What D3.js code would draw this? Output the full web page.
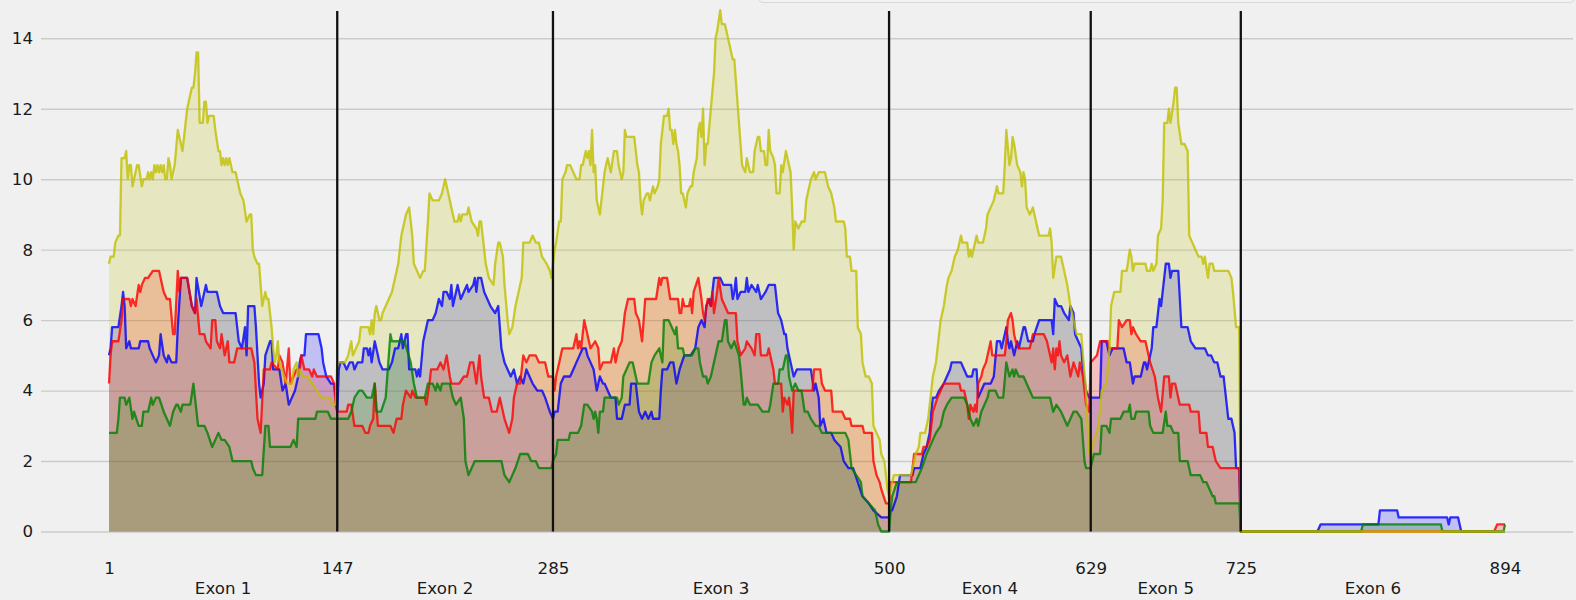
<!DOCTYPE html>
<html><head><meta charset="utf-8">
<script src="https://cdn.jsdelivr.net/npm/d3@7"></script>
<style>
html,body{margin:0;padding:0;background:#f0f0f0;}
svg{display:block;font-family:"DejaVu Sans",sans-serif;}
</style></head>
<body><svg id="chart" width="1576" height="600"></svg>
<script>
// ---- data ----
const exonBounds = [1, 147, 285, 500, 629, 725, 894];
const exonLabels = ["Exon 1", "Exon 2", "Exon 3", "Exon 4", "Exon 5", "Exon 6"];
const yTicks = [0, 2, 4, 6, 8, 10, 12, 14];

const blueSeries = [[1,5.0],[2,5.2],[3,5.8],[7,5.8],[9,6.4],[10,6.8],[11,6.4],[12,5.2],[14,5.4],[15,5.2],[20,5.2],[21,5.4],[26,5.4],[27,5.2],[29,5.0],[31,4.8],[33,5.0],[34,5.6],[36,5.0],[38,4.8],[39,5.0],[41,4.8],[44,4.8],[45,5.8],[47,7.2],[51,7.2],[54,6.4],[56,6.2],[57,7.2],[60,6.4],[63,7.0],[64,6.8],[70,6.8],[72,6.4],[74,6.2],[82,6.2],[84,5.4],[86,5.2],[88,5.8],[89,5.0],[90,6.4],[94,6.4],[95,5.8],[97,4.2],[98,3.8],[100,4.2],[101,5.0],[104,5.4],[105,5.4],[106,4.6],[110,4.6],[112,4.0],[114,4.2],[116,3.6],[118,3.8],[120,4.0],[122,4.4],[123,4.8],[124,5.0],[126,5.0],[127,5.6],[135,5.6],[137,5.2],[138,4.8],[140,4.4],[143,4.2],[145,4.2],
[147,3.4],[148,4.6],[149,4.8],[151,4.8],[153,4.6],[155,4.8],[157,4.8],[158,4.6],[160,4.8],[163,4.8],[164,5.2],[166,5.2],[167,5.0],[168,5.2],[169,4.8],[171,5.4],[173,5.0],[174,4.8],[176,4.6],[180,4.6],[182,4.8],[184,5.2],[186,5.2],[188,5.6],[189,5.2],[191,5.6],[192,5.6],[193,4.6],[197,4.6],[198,4.4],[199,4.6],[200,4.4],[202,5.4],[204,5.8],[205,6.0],[208,6.0],[210,6.2],[212,6.6],[214,6.4],[215,6.8],[217,6.8],[219,6.6],[220,7.0],[221,6.4],[223,6.8],[224,7.0],[226,6.6],[228,6.8],[230,7.0],[231,6.8],[234,7.0],[235,7.2],[236,6.8],[237,7.2],[239,7.2],[241,6.8],[243,6.6],[245,6.4],[248,6.2],[250,6.4],[252,5.2],[254,4.8],[256,4.6],[258,4.4],[260,4.6],[262,4.2],[264,4.4],[266,4.2],[268,4.6],[270,4.4],[272,4.2],[275,4.0],[278,4.0],[280,3.8],[283,3.4],
[285,3.2],[286,3.4],[288,3.4],[289,3.8],[290,4.2],[292,4.4],[296,4.4],[298,4.6],[300,4.8],[302,5.0],[304,5.2],[306,5.2],[307,5.0],[309,4.8],[311,4.6],[313,4.0],[315,4.4],[317,4.2],[318,4.2],[320,4.0],[322,3.8],[325,3.8],[326,3.2],[329,3.2],[331,3.6],[334,3.6],[335,4.2],[338,4.2],[340,3.4],[342,3.2],[344,3.4],[346,3.2],[348,3.4],[349,3.2],[353,3.2],[354,4.0],[355,4.6],[358,4.6],[360,4.8],[362,4.8],[364,4.2],[366,4.6],[369,5.0],[373,5.0],[376,5.2],[378,5.8],[380,6.0],[382,5.8],[383,6.4],[385,6.6],[386,6.4],[388,7.2],[392,7.2],[394,7.0],[399,7.0],[400,6.6],[401,6.8],[402,7.2],[403,6.6],[405,6.8],[408,6.8],[409,7.2],[410,6.8],[412,7.0],[415,6.8],[416,7.0],[418,6.6],[421,6.8],[423,7.0],[427,7.0],[429,6.2],[431,6.0],[433,5.6],[434,5.6],[435,5.2],[437,4.8],[439,4.4],[441,4.6],[450,4.6],[452,4.0],[453,4.2],[455,3.8],[456,3.0],[458,3.2],[460,2.8],[463,2.8],[465,2.6],[469,2.4],[471,2.0],[474,1.8],[477,1.8],[480,1.4],[483,1.0],[487,0.8],[490,0.6],[495,0.4],[500,0.4],
[501,0.6],[502,0.6],[505,1.0],[507,1.6],[515,1.6],[516,1.8],[520,1.8],[522,2.2],[524,2.4],[526,2.8],[527,3.4],[528,3.8],[530,3.8],[532,4.0],[535,4.2],[537,4.4],[539,4.6],[540,4.8],[546,4.8],[548,4.6],[550,4.4],[553,4.4],[554,4.6],[556,4.6],[557,3.8],[559,4.0],[561,4.2],[565,4.2],[567,4.4],[569,5.4],[571,5.4],[572,5.2],[574,5.6],[575,5.8],[576,5.4],[577,5.2],[578,5.4],[580,5.0],[582,5.4],[583,5.2],[584,5.4],[586,5.8],[587,5.8],[589,5.4],[592,5.4],[593,5.6],[596,6.0],[604,6.0],[605,5.6],[606,6.6],[608,6.4],[610,6.4],[612,6.2],[615,6.0],[616,6.4],[618,6.2],[619,5.6],[621,5.4],[623,5.2],[624,4.6],[626,4.0],[628,3.8],
[629,3.8],[635,3.8],[636,5.4],[639,5.4],[641,5.0],[643,5.2],[650,5.2],[652,4.8],[654,4.8],[656,4.2],[657,4.4],[661,4.4],[663,4.8],[664,4.8],[665,4.6],[666,4.8],[668,5.2],[669,5.8],[671,5.8],[673,6.6],[674,6.4],[675,6.8],[677,7.6],[679,7.6],[680,7.2],[681,7.4],[685,7.4],[687,5.8],[691,5.8],[693,5.4],[696,5.2],[702,5.2],[704,5.0],[706,5.0],[708,4.8],[710,4.8],[712,4.4],[714,4.4],[716,3.6],[717,3.2],[719,3.2],[721,2.8],[722,1.8],[724,1.8],
[725,0],[774,0],[776,0.2],[813,0.2],[814,0.6],[825,0.6],[826,0.4],[857,0.4],[858,0.2],[859,0.4],[864,0.4],[866,0],[894,0]];

const redSeries = [[1,4.2],[2,5.0],[3,5.4],[7,5.4],[9,6.0],[10,6.6],[14,6.6],[15,6.4],[16,6.6],[18,6.4],[20,7.0],[21,6.8],[22,7.0],[24,7.2],[26,7.2],[29,7.4],[33,7.4],[35,7.0],[36,6.8],[38,6.6],[40,6.6],[42,5.6],[43,5.6],[45,7.4],[46,6.8],[47,7.2],[51,7.2],[54,6.4],[56,6.2],[57,6.6],[59,5.6],[62,5.6],[63,5.4],[66,5.2],[67,6.0],[69,6.0],[70,5.4],[72,5.2],[73,5.6],[75,5.0],[77,5.4],[78,4.8],[81,4.8],[83,5.2],[92,5.2],[94,4.8],[96,3.2],[98,2.8],[100,4.6],[104,4.6],[105,4.8],[109,4.6],[110,5.0],[112,4.8],[114,4.2],[116,5.2],[117,4.2],[119,4.4],[121,4.6],[123,4.6],[124,5.0],[126,4.6],[129,4.6],[131,4.4],[132,4.6],[134,4.4],[143,4.4],[145,4.2],[146,3.6],
[147,3.4],[153,3.4],[154,3.6],[156,3.6],[158,3.0],[163,3.0],[165,2.8],[167,2.8],[168,3.0],[170,3.2],[171,4.2],[173,3.0],[181,3.0],[183,2.8],[185,3.2],[188,3.2],[189,3.6],[191,4.0],[194,3.8],[195,4.0],[197,3.8],[203,3.8],[204,3.6],[206,4.2],[207,4.6],[211,4.6],[213,4.8],[215,4.6],[217,5.0],[219,4.4],[220,4.2],[225,4.2],[228,4.4],[230,4.4],[232,4.8],[234,4.8],[236,4.2],[238,5.0],[239,4.4],[241,3.8],[244,3.8],[246,3.4],[249,3.4],[251,3.8],[254,3.2],[257,2.8],[259,3.2],[260,3.8],[262,4.2],[264,4.2],[266,5.0],[268,4.8],[270,5.0],[274,5.0],[276,4.8],[280,4.8],[282,4.4],[284,4.4],
[285,4.4],[286,4.0],[287,4.4],[289,4.8],[291,5.2],[298,5.2],[300,5.6],[301,5.2],[302,5.4],[303,5.2],[305,6.0],[307,5.6],[309,5.2],[312,5.4],[314,5.2],[315,4.6],[317,4.8],[322,4.8],[324,5.2],[325,4.8],[327,5.2],[329,5.4],[331,6.2],[333,6.6],[337,6.6],[338,6.2],[340,6.0],[342,5.4],[344,6.6],[351,6.6],[353,7.2],[354,7.0],[355,7.2],[358,7.2],[360,6.6],[365,6.6],[366,6.2],[367,6.2],[368,6.6],[369,6.4],[372,6.4],[373,6.6],[374,6.2],[375,6.8],[378,7.2],[380,6.6],[381,6.2],[382,6.0],[384,6.6],[386,6.4],[387,6.8],[388,6.2],[390,6.8],[391,7.2],[393,6.6],[395,6.4],[397,6.2],[402,6.2],[403,5.4],[405,5.0],[408,5.2],[409,5.4],[412,5.2],[414,5.0],[415,5.6],[417,5.6],[418,5.0],[422,5.0],[423,5.2],[424,5.0],[426,4.6],[427,4.2],[431,4.2],[432,3.4],[433,3.8],[435,3.6],[436,3.8],[437,3.4],[438,2.8],[439,4.0],[451,4.0],[452,4.6],[456,4.6],[457,4.2],[459,4.0],[463,4.0],[464,3.4],[470,3.4],[472,3.2],[475,3.2],[476,3.0],[483,3.0],[484,2.8],[489,2.8],[490,2.0],[492,1.6],[494,1.4],[495,1.2],[498,0.8],[500,0.8],
[501,1.4],[514,1.4],[516,2.2],[521,2.2],[522,2.4],[524,2.4],[526,2.6],[528,3.4],[531,3.8],[533,4.0],[535,4.2],[545,4.2],[546,4.0],[548,4.0],[550,3.6],[551,3.2],[552,3.6],[554,3.4],[555,3.6],[556,3.4],[557,4.2],[559,4.4],[560,4.6],[562,4.8],[563,5.0],[565,5.4],[566,5.0],[568,5.0],[574,5.0],[575,5.4],[576,6.0],[578,6.2],[579,6.0],[580,5.6],[581,5.4],[583,5.2],[590,5.2],[592,5.6],[599,5.6],[601,5.4],[603,5.0],[604,4.8],[605,5.2],[606,4.6],[607,5.2],[608,5.0],[609,5.4],[610,5.0],[612,4.8],[614,5.0],[616,4.4],[618,4.8],[621,4.4],[622,4.8],[624,4.4],[626,3.6],[628,3.4],
[629,4.8],[633,5.0],[635,5.4],[640,5.4],[641,5.2],[646,5.2],[647,6.0],[649,5.8],[652,6.0],[654,6.0],[655,5.6],[656,5.8],[658,5.6],[661,5.4],[664,5.4],[665,5.2],[666,5.0],[667,4.8],[670,4.4],[672,3.8],[674,3.4],[676,4.4],[679,4.4],[680,3.8],[681,4.2],[683,4.2],[685,3.8],[686,3.6],[692,3.6],[693,3.4],[698,3.4],[699,2.8],[703,2.8],[704,2.4],[707,2.4],[708,2.2],[709,2.0],[712,1.8],[724,1.8],
[725,0],[887,0],[889,0.2],[894,0.2]];

const greenSeries = [[1,2.8],[6,2.8],[7,3.2],[8,3.8],[11,3.8],[12,3.6],[14,3.8],[16,3.2],[17,3.4],[20,3.0],[22,3.0],[23,3.4],[26,3.4],[28,3.8],[29,3.6],[31,3.8],[33,3.8],[36,3.4],[38,3.2],[40,3.0],[42,3.4],[44,3.6],[45,3.6],[47,3.4],[48,3.6],[53,3.6],[55,4.2],[58,3.0],[62,3.0],[64,2.8],[67,2.4],[69,2.6],[71,2.8],[73,2.6],[75,2.6],[78,2.4],[80,2.0],[92,2.0],[93,1.8],[95,1.6],[99,1.6],[101,3.0],[103,3.0],[104,2.4],[117,2.4],[119,2.6],[121,2.4],[122,3.2],[133,3.2],[134,3.4],[141,3.4],[143,3.2],[146,3.2],
[147,3.2],[154,3.2],[156,3.4],[158,3.8],[161,4.0],[163,4.0],[166,3.8],[169,3.8],[171,4.2],[172,3.4],[175,3.4],[178,3.8],[181,5.6],[182,5.4],[190,5.4],[194,4.8],[196,4.2],[198,3.8],[203,3.8],[205,4.2],[208,4.2],[210,4.0],[211,4.2],[213,4.0],[214,4.2],[219,4.2],[221,3.8],[223,3.6],[226,3.8],[228,3.2],[229,2.0],[231,1.6],[233,1.8],[235,2.0],[252,2.0],[254,1.6],[257,1.4],[259,1.6],[261,1.8],[264,2.2],[269,2.2],[271,2.0],[274,2.0],[276,1.8],[284,1.8],
[285,2.0],[287,2.2],[288,2.6],[295,2.6],[296,2.8],[301,2.8],[303,3.0],[305,3.6],[307,3.6],[310,3.4],[311,3.2],[312,3.4],[313,3.2],[314,2.8],[315,3.4],[317,3.4],[318,3.8],[326,3.8],[327,3.6],[329,3.8],[330,4.4],[332,4.6],[334,4.8],[336,4.8],[338,4.4],[339,4.2],[346,4.2],[348,4.8],[350,5.0],[353,5.2],[355,4.8],[356,6.0],[359,6.0],[361,5.8],[363,5.6],[364,5.8],[365,5.2],[368,5.2],[369,5.0],[374,5.0],[376,5.2],[378,5.2],[379,4.8],[381,4.4],[383,4.4],[384,4.2],[386,4.4],[389,5.0],[391,5.4],[393,5.4],[395,6.0],[396,6.0],[397,5.4],[399,5.2],[401,5.4],[404,5.0],[405,4.6],[407,3.6],[408,3.6],[409,3.8],[411,3.6],[416,3.6],[419,3.4],[423,3.4],[424,3.6],[426,4.2],[429,4.2],[430,4.6],[432,4.6],[434,5.0],[435,5.0],[436,4.4],[438,4.0],[440,4.2],[442,4.0],[444,4.0],[446,3.4],[448,3.4],[450,3.2],[453,3.0],[455,3.0],[457,2.8],[472,2.8],[474,2.6],[476,1.8],[479,1.6],[482,1.4],[483,1.0],[487,0.8],[491,0.6],[493,0.2],[495,0],[500,0],
[501,0.6],[502,1.0],[505,1.4],[517,1.4],[519,1.6],[521,1.8],[524,2.2],[526,2.4],[528,2.6],[530,2.8],[533,3.0],[535,3.4],[537,3.6],[540,3.8],[548,3.8],[550,3.6],[551,3.4],[552,3.2],[554,3.0],[556,3.2],[557,3.0],[559,3.4],[561,3.6],[563,3.8],[564,4.0],[568,4.0],[570,3.8],[573,3.8],[575,4.8],[577,4.4],[579,4.6],[580,4.4],[581,4.6],[583,4.4],[586,4.4],[588,4.2],[590,4.0],[592,3.8],[603,3.8],[605,3.4],[607,3.6],[610,3.4],[612,3.2],[614,3.0],[616,3.2],[618,3.4],[620,3.4],[623,3.2],[625,2.0],[626,1.8],[628,1.8],
[629,1.8],[630,2.0],[631,2.2],[635,2.2],[636,3.0],[639,3.0],[641,2.8],[642,3.2],[648,3.2],[650,3.4],[653,3.4],[654,3.6],[655,3.2],[657,3.2],[658,3.4],[666,3.4],[667,3.0],[669,2.8],[675,2.8],[677,3.4],[678,3.0],[680,3.0],[682,2.8],[685,2.8],[686,2.0],[691,2.0],[693,1.6],[699,1.6],[701,1.4],[703,1.4],[705,1.2],[707,1.0],[708,1.0],[709,0.8],[724,0.8],
[725,0],[802,0],[803,0.2],[853,0.2],[854,0],[893,0],[894,0.2]];

const yellowSeries = [[1,7.6],[2,7.8],[4,7.8],[5,8.2],[7,8.4],[8,8.4],[9,10.6],[11,10.6],[12,10.8],[13,10.0],[14,10.4],[15,10.4],[16,9.8],[17,10.0],[19,10.4],[20,10.4],[22,9.8],[23,10.0],[25,10.0],[26,10.2],[27,10.0],[28,10.2],[29,10.0],[30,10.4],[31,10.2],[32,10.4],[33,10.2],[34,10.4],[35,10.2],[36,10.4],[37,10.0],[38,10.0],[39,10.6],[40,10.4],[41,10.0],[43,10.4],[45,11.4],[47,11.0],[48,10.8],[50,11.6],[51,12.0],[53,12.4],[54,12.6],[55,12.6],[56,13.0],[57,13.6],[58,13.6],[59,11.6],[61,11.6],[62,12.2],[63,12.2],[64,11.6],[65,11.8],[68,11.8],[69,11.4],[71,10.8],[72,10.8],[73,10.4],[74,10.6],[75,10.4],[76,10.6],[77,10.4],[78,10.6],[80,10.2],[82,10.2],[83,10.0],[85,9.6],[87,9.4],[89,8.8],[91,9.0],[92,9.0],[93,8.0],[94,7.8],[96,7.6],[97,7.6],[98,7.0],[99,6.4],[101,6.8],[102,6.6],[103,6.6],[105,5.8],[106,5.2],[107,4.8],[108,5.0],[109,5.4],[110,4.8],[113,4.4],[115,4.2],[118,4.2],[119,4.6],[121,4.8],[122,4.4],[123,4.6],[125,4.4],[128,4.4],[131,4.2],[134,4.0],[137,3.8],[142,3.8],[144,3.6],[146,3.6],
[147,4.8],[152,4.8],[154,5.0],[156,5.4],[157,5.0],[159,5.2],[161,5.4],[162,5.8],[167,5.8],[168,5.6],[169,6.0],[170,5.6],[171,6.2],[172,6.4],[174,6.0],[175,6.0],[176,6.2],[178,6.4],[180,6.6],[182,6.8],[184,7.2],[186,7.6],[187,8.0],[188,8.4],[190,8.8],[191,9.0],[193,9.2],[194,8.8],[195,8.4],[196,7.6],[198,7.4],[200,7.2],[202,7.4],[203,7.4],[205,8.8],[206,9.6],[208,9.4],[212,9.4],[214,9.6],[216,10.0],[218,9.6],[220,9.2],[222,8.8],[224,8.8],[225,9.0],[226,8.8],[227,9.0],[230,9.0],[231,9.2],[233,8.8],[236,8.6],[237,8.4],[238,8.8],[239,8.8],[241,8.0],[242,7.6],[244,7.2],[247,7.0],[248,7.6],[250,8.2],[251,8.2],[253,7.8],[254,7.0],[256,6.0],[257,5.6],[259,5.8],[261,6.4],[263,6.8],[265,7.2],[266,8.2],[270,8.2],[272,8.4],[274,8.2],[276,8.2],[278,7.8],[281,7.6],[283,7.4],[284,7.2],
[285,7.6],[286,8.0],[287,8.2],[289,8.8],[290,8.8],[291,10.0],[293,10.2],[294,10.4],[296,10.4],[298,10.2],[300,10.0],[302,10.0],[303,10.4],[304,10.4],[305,10.6],[306,10.8],[307,10.6],[308,10.8],[309,10.4],[310,11.4],[311,10.2],[312,10.4],[313,9.4],[315,9.0],[317,9.8],[318,10.2],[319,10.4],[320,10.6],[322,10.2],[324,10.8],[326,10.8],[327,10.4],[329,10.0],[330,10.2],[331,11.4],[332,11.2],[337,11.2],[339,10.4],[340,10.2],[341,9.4],[342,9.0],[343,9.4],[345,9.6],[346,9.6],[347,9.4],[348,9.6],[349,9.8],[350,9.6],[352,9.8],[353,10.0],[354,11.0],[356,11.8],[358,11.8],[359,12.0],[360,11.4],[361,11.4],[362,11.0],[363,11.4],[364,11.0],[365,10.8],[366,10.4],[367,9.6],[368,9.6],[370,9.2],[371,9.6],[373,9.8],[374,9.8],[375,10.2],[377,10.6],[378,11.4],[379,11.6],[380,11.2],[381,12.0],[382,10.4],[383,11.0],[384,11.0],[386,12.0],[388,13.0],[389,14.0],[390,14.2],[392,14.8],[393,14.4],[395,14.4],[397,14.0],[398,13.8],[400,13.4],[401,13.4],[402,12.8],[404,11.6],[406,10.4],[408,10.2],[409,10.6],[411,10.2],[413,10.2],[414,10.8],[416,11.2],[417,11.2],[418,10.8],[420,10.8],[421,10.4],[422,10.4],[423,11.4],[424,10.8],[426,10.6],[427,10.4],[428,9.6],[430,9.6],[431,10.4],[432,10.2],[434,10.8],[437,10.2],[438,9.2],[439,8.0],[440,8.8],[442,8.6],[444,8.8],[446,8.8],[447,9.4],[448,9.6],[450,10.0],[452,10.2],[453,10.0],[455,10.2],[459,10.2],[461,9.8],[463,9.6],[465,9.2],[466,8.8],[471,8.8],[472,8.6],[473,7.8],[475,7.8],[476,7.4],[479,7.4],[480,5.8],[482,5.6],[483,4.8],[485,4.4],[487,4.4],[489,4.2],[490,3.0],[492,2.8],[494,2.6],[495,2.2],[497,2.0],[498,1.6],[499,1.2],[500,1.0],
[501,1.2],[503,1.6],[514,1.6],[515,1.8],[517,2.2],[519,2.4],[520,2.8],[523,2.8],[524,3.0],[525,3.2],[526,3.6],[527,4.0],[528,4.4],[530,4.8],[532,5.6],[533,6.0],[535,6.4],[537,7.0],[538,7.2],[540,7.4],[542,7.8],[544,8.0],[546,8.4],[547,8.2],[550,8.2],[551,7.8],[552,8.0],[553,7.8],[556,8.4],[557,8.2],[560,8.2],[562,8.6],[563,9.0],[565,9.2],[567,9.4],[569,9.8],[570,9.6],[573,9.6],[574,10.4],[575,11.4],[577,10.4],[578,10.6],[579,11.2],[580,11.0],[582,10.4],[584,10.2],[585,9.8],[586,10.2],[587,10.0],[588,9.2],[590,9.0],[592,9.2],[593,9.0],[594,8.8],[596,8.4],[602,8.4],[603,8.6],[604,8.2],[605,7.2],[607,7.8],[610,7.8],[612,7.4],[614,7.0],[616,6.4],[618,6.0],[620,5.6],[623,5.6],[624,5.0],[626,4.0],[627,3.0],[628,2.2],
[629,2.2],[631,2.6],[634,3.0],[636,4.0],[639,4.2],[641,5.2],[642,6.4],[644,6.8],[648,6.8],[649,7.4],[652,7.4],[654,8.0],[655,7.8],[656,7.4],[657,7.6],[664,7.6],[665,7.4],[667,7.4],[668,7.6],[669,7.4],[671,7.6],[672,8.4],[674,8.6],[675,9.4],[676,11.6],[678,11.6],[679,12.0],[680,11.6],[682,12.2],[683,12.6],[684,12.6],[685,11.6],[687,11.0],[689,11.0],[691,10.8],[692,8.4],[694,8.2],[696,8.0],[698,7.8],[700,7.8],[701,7.6],[702,7.8],[704,7.2],[705,7.6],[707,7.6],[708,7.4],[717,7.4],[719,7.2],[720,6.8],[722,5.8],[724,5.8],
[725,0],[894,0]];

// drawing order (back to front) and colours
const seriesOrder = ["blue", "red", "green", "yellow"];
const seriesData = {blue: blueSeries, red: redSeries, green: greenSeries, yellow: yellowSeries};
const seriesColor = {blue: "#0000ff", red: "#ff0000", green: "#008000", yellow: "#bfbf00"};

// ---- layout ----
const svg = d3.select("#chart");
const W = 1576, H = 600;
const FS = 16.67;
const gridLeft = 41, gridRight = 1573;
const x = d3.scaleLinear().domain([1, 894]).range([109, 1505]);
const y = d3.scaleLinear().domain([0, 14]).range([531.5, 38.3]);

svg.append("rect").attr("width", W).attr("height", H).attr("fill", "#f0f0f0");

// clipped legend box at the top
svg.append("rect").attr("x", 759).attr("y", -40).attr("width", 815).attr("height", 42.5)
  .attr("rx", 4).attr("fill", "#f2f2f2").attr("stroke", "#d8d8d8").attr("stroke-width", 1);

// y axis with grid
const yAxis = d3.axisLeft(y).tickValues(yTicks).tickSize(-(gridRight - gridLeft)).tickPadding(8)
  .tickFormat(d3.format("d"));
const gy = svg.append("g").attr("transform", `translate(${gridLeft},0)`).call(yAxis);
gy.select(".domain").remove();
gy.selectAll("line").attr("stroke", "#cbcbcb").attr("stroke-width", 1.4);
gy.selectAll("text").attr("font-size", FS).attr("fill", "#1a1a1a").attr("font-family", "DejaVu Sans");

// x axis
const xAxis = d3.axisBottom(x).tickValues(exonBounds).tickSize(0).tickPadding(30.5).tickFormat(d3.format("d"));
const gx = svg.append("g").attr("transform", `translate(0,${y(0)})`).call(xAxis);
gx.select(".domain").remove();
gx.selectAll("text").attr("font-size", FS).attr("fill", "#1a1a1a").attr("font-family", "DejaVu Sans");

// exon labels
svg.append("g").selectAll("text").data(exonLabels).join("text")
  .attr("x", (d, i) => (x(exonBounds[i]) + x(exonBounds[i + 1])) / 2)
  .attr("y", 594).attr("text-anchor", "middle")
  .attr("font-size", FS).attr("fill", "#1a1a1a").attr("font-family", "DejaVu Sans")
  .text(d => d);

// series: all fills first, then all lines on top
const area = d3.area().x(d => x(d[0])).y0(y(0)).y1(d => y(d[1]));
const line = d3.line().x(d => x(d[0])).y(d => y(d[1]));
const gFill = svg.append("g");
const gLine = svg.append("g");
seriesOrder.forEach(k => {
  gFill.append("path").datum(seriesData[k]).attr("d", area)
    .attr("fill", seriesColor[k]).attr("fill-opacity", 0.2);
  gLine.append("path").datum(seriesData[k]).attr("d", line)
    .attr("fill", "none").attr("stroke", seriesColor[k]).attr("stroke-opacity", 0.8)
    .attr("stroke-width", 2.3).attr("stroke-linejoin", "round");
});

// exon boundary lines
svg.append("g").selectAll("line").data(exonBounds.slice(1, -1)).join("line")
  .attr("x1", d => x(d)).attr("x2", d => x(d))
  .attr("y1", 11).attr("y2", y(0))
  .attr("stroke", "#111").attr("stroke-width", 2.3);
</script>
</body></html>
